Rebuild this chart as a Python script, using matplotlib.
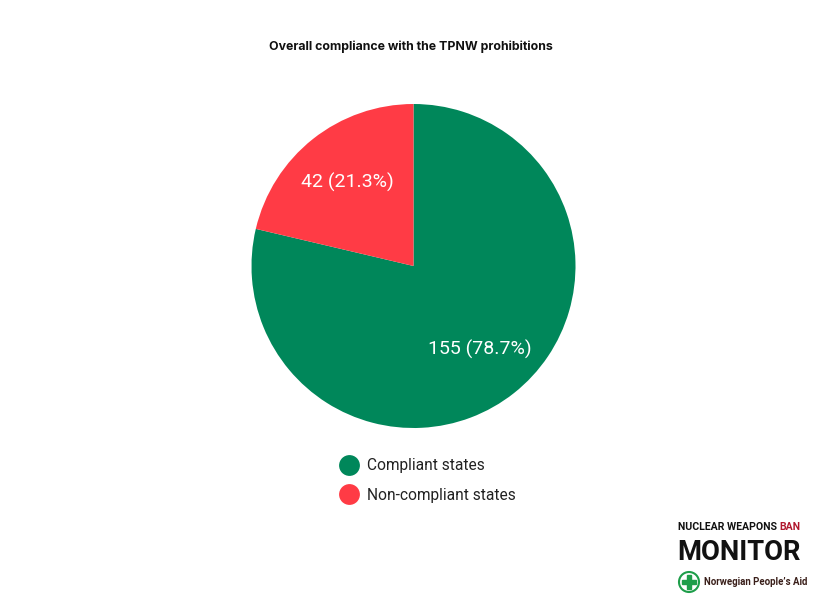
import matplotlib
matplotlib.use("Agg")
import matplotlib.pyplot as plt
from matplotlib.lines import Line2D
from matplotlib.patches import Circle, Rectangle

categories = ["Compliant states", "Non-compliant states"]
values = [155, 42]
colors = ["#00875A", "#FF3B45"]
title = "Overall compliance with the TPNW prohibitions"

W, H = 822, 605
fig = plt.figure(figsize=(W / 100, H / 100), dpi=100)
fig.patch.set_facecolor("white")

# Pie axes
cx, cy, r = 413.5, 266, 162
ax = fig.add_axes([(cx - r) / W, 1 - (cy + r) / H, 2 * r / W, 2 * r / H])
total = sum(values)

def fmt(pct):
    n = int(round(pct * total / 100))
    return f"{n} ({pct:.1f}%)"

wedges, texts, autotexts = ax.pie(
    values, colors=colors, startangle=90, counterclock=False,
    autopct=fmt, pctdistance=0.655,
    textprops=dict(color="white", fontsize=14, family="Roboto"),
    wedgeprops=dict(linewidth=0),
)
ax.set_xlim(-1, 1)
ax.set_ylim(-1, 1)
ax.set_aspect("equal")
ax.axis("off")

fig.text(411 / W, 1 - 47 / H, title, ha="center", va="center",
         fontsize=8.9, fontweight="bold", family="Inter", color="#111111")

# Legend
handles = [Line2D([0], [0], marker="o", color="w", markerfacecolor=c,
                  markeredgewidth=0, markersize=15) for c in colors]
fig.legend(handles, categories, loc="upper left",
           bbox_to_anchor=(323 / W, 1 - 444 / H), frameon=False,
           prop=dict(family="Roboto", size=11.2), labelcolor="#222222",
           handletextpad=0.3, labelspacing=0.95, handlelength=1.6)

# Logo overlay
ov = fig.add_axes([0, 0, 1, 1])
ov.set_xlim(0, W)
ov.set_ylim(H, 0)
ov.axis("off")

fig.canvas.draw()
renderer = fig.canvas.get_renderer()

def fit_text(x, y, s, width, size, **kw):
    t = ov.text(x, y, s, ha="left", va="center", fontsize=size, **kw)
    bb = t.get_window_extent(renderer)
    t.set_fontsize(size * width / bb.width)
    return t

t1 = fit_text(678, 527, "NUCLEAR WEAPONS", 99, 8, fontweight="bold",
              family="Roboto", color="#111111")
ov.text(800, 527, "BAN", ha="right", va="center", fontsize=t1.get_fontsize(),
        fontweight="bold", family="Roboto", color="#B0182E")
fit_text(677, 553, "MONITOR", 123, 20, fontweight="bold",
         family="Roboto", color="#111111")
ov.add_patch(Circle((689, 582), 10, facecolor="white", edgecolor="#1E9E4A", lw=1.5))
ov.add_patch(Rectangle((687, 575), 4, 14, color="#1E9E4A"))
ov.add_patch(Rectangle((682, 580), 14, 4, color="#1E9E4A"))
fit_text(704, 582, "Norwegian People\u2019s Aid", 103, 7.5, fontweight="bold",
         family="Roboto", color="#3A1F1A")

fig.savefig("out.png", dpi=100, facecolor="white")
